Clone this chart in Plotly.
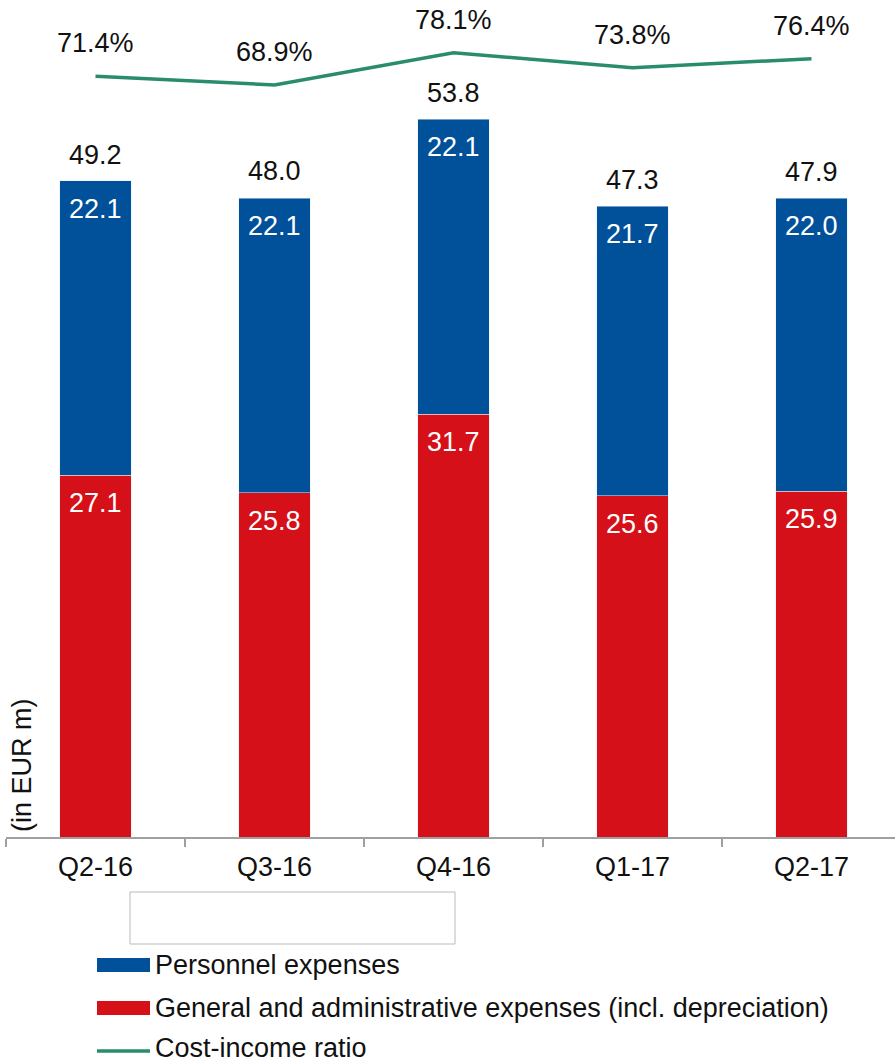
import plotly.graph_objects as go

# Quarterly operating expenses (EUR m) and cost-income ratio (%)
quarters = ["Q2-16", "Q3-16", "Q4-16", "Q1-17", "Q2-17"]
general_admin = [27.1, 25.8, 31.7, 25.6, 25.9]
personnel = [22.1, 22.1, 22.1, 21.7, 22.0]
totals = [49.2, 48.0, 53.8, 47.3, 47.9]
cost_income = [71.4, 68.9, 78.1, 73.8, 76.4]

BLUE = "#00509A"
RED = "#D51018"
GREEN = "#2A8C6E"
FONT = "Liberation Sans, Arial, sans-serif"
FS = 27

W, H = 895, 1063
ML, MR, MT, MB = 6, 0, 10, 226
PW, PH = W - ML - MR, H - MT - MB


def px(xp):
    return (xp - ML) / PW


def py(yp):
    return (H - MB - yp) / PH


fig = go.Figure()
fig.add_trace(go.Bar(x=quarters, y=general_admin, marker_color=RED, width=0.4,
                     name="General and administrative expenses (incl. depreciation)"))
fig.add_trace(go.Bar(x=quarters, y=personnel, marker_color=BLUE, width=0.4,
                     name="Personnel expenses"))
fig.add_trace(go.Scatter(x=quarters, y=cost_income, yaxis="y2", mode="lines",
                         line=dict(color=GREEN, width=3.5), name="Cost-income ratio"))

ann = []
for q, g, p, t, c in zip(quarters, general_admin, personnel, totals, cost_income):
    ann.append(dict(x=q, y=g, yref="y", text=f"{g:.1f}", showarrow=False,
                    yshift=-28, font=dict(color="white", size=FS, family=FONT)))
    ann.append(dict(x=q, y=g + p, yref="y", text=f"{p:.1f}", showarrow=False,
                    yshift=-28, font=dict(color="white", size=FS, family=FONT)))
    ann.append(dict(x=q, y=t, yref="y", text=f"{t:.1f}", showarrow=False,
                    yshift=26, font=dict(color="#111", size=FS, family=FONT)))
    ann.append(dict(x=q, y=c, yref="y2", text=f"{c:.1f}%", showarrow=False,
                    yshift=33, font=dict(color="#111", size=FS, family=FONT)))

# axis title
ann.append(dict(xref="paper", yref="paper", x=px(22), y=py(765), text="(in EUR m)",
                textangle=-90, showarrow=False, xanchor="center", yanchor="middle",
                font=dict(color="#111", size=FS, family=FONT)))

# legend entries
legend_items = [
    ("Personnel expenses", BLUE, "bar", 965),
    ("General and administrative expenses (incl. depreciation)", RED, "bar", 1008),
    ("Cost-income ratio", GREEN, "line", 1048),
]
shapes = []
for label, col, kind, yc in legend_items:
    ann.append(dict(xref="paper", yref="paper", x=px(153), y=py(yc), text=label,
                    showarrow=False, xanchor="left", yanchor="middle",
                    font=dict(color="#111", size=FS, family=FONT)))
    if kind == "bar":
        shapes.append(dict(type="rect", xref="paper", yref="paper",
                           x0=px(97), x1=px(150), y0=py(yc - 7), y1=py(yc + 7),
                           fillcolor=col, line=dict(width=0)))
    else:
        shapes.append(dict(type="line", xref="paper", yref="paper",
                           x0=px(97), x1=px(150), y0=py(yc + 3), y1=py(yc + 3),
                           line=dict(color=col, width=3.5)))

# empty text box below the axis
shapes.append(dict(type="rect", xref="paper", yref="paper",
                   x0=px(130), x1=px(455), y0=py(892), y1=py(944),
                   fillcolor="white", line=dict(color="#BBBBBB", width=1)))

fig.update_layout(
    width=W, height=H, autosize=False,
    margin=dict(l=ML, r=MR, t=MT, b=MB, pad=0),
    paper_bgcolor="white", plot_bgcolor="white",
    barmode="stack", showlegend=False,
    font=dict(family=FONT, size=FS, color="#111"),
    xaxis=dict(type="category", range=[-0.5, -0.5 + PW / 179.0],
               showline=True, linecolor="#A0A0A0", linewidth=1.5,
               ticks="outside", tickson="boundaries", ticklen=8,
               tickcolor="#A0A0A0", tickwidth=1.5, ticklabelstandoff=5,
               tickfont=dict(size=FS, family=FONT, color="#111"),
               showgrid=False, zeroline=False, fixedrange=True),
    yaxis=dict(range=[0, PH / 13.34], visible=False, showgrid=False, zeroline=False),
    yaxis2=dict(range=[90.27 - PH / 3.51, 90.27], overlaying="y", visible=False,
                showgrid=False, zeroline=False),
    annotations=ann,
    shapes=shapes,
)

fig.write_html("out.html")
